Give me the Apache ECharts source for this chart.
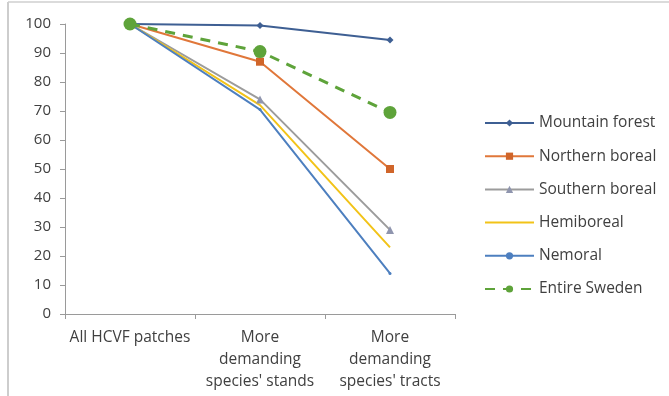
<!DOCTYPE html>
<html>
<head>
<meta charset="utf-8">
<script src="https://cdn.jsdelivr.net/npm/echarts@6/dist/echarts.min.js"></script>
<style>
  html, body { margin: 0; padding: 0; background: #ffffff; }
  #chart { width: 669px; height: 396px; }
</style>
</head>
<body>
<div id="chart"></div>
<script>
// Categories along the x axis
const categories = [
  'All HCVF patches',
  'More\ndemanding\nspecies\' stands',
  'More\ndemanding\nspecies\' tracts'
];

// Share of area (%) retained at each level, per forest region
const mountainForest = [100, 99.5, 94.5];
const northernBoreal = [100, 87, 50];
const southernBoreal = [100, 74, 29];
const hemiboreal = [100, 72, 23];
const nemoral = [100, 70.5, 14];
const entireSweden = [100, 90.5, 69.5];

const yTicks = { min: 0, max: 100, interval: 10 };

const chart = echarts.init(document.getElementById('chart'));

function lineSeries(name, data, color, symbol, size, extra) {
  return Object.assign({
    name: name,
    type: 'line',
    data: data,
    color: color,
    symbol: symbol,
    symbolSize: size,
    lineStyle: { color: color, width: 2 },
    itemStyle: { color: color },
    animation: false
  }, extra || {});
}

chart.setOption({
  animation: false,
  textStyle: { fontFamily: 'Open Sans, Liberation Sans, sans-serif' },
  grid: { left: 65, right: 214, top: 24, bottom: 82, containLabel: false },
  xAxis: {
    type: 'category',
    data: categories,
    boundaryGap: true,
    axisLine: { lineStyle: { color: '#9a9a9a', width: 1 } },
    axisTick: { show: true, length: 5, lineStyle: { color: '#9a9a9a' } },
    axisLabel: { color: '#404040', fontSize: 15.5, lineHeight: 22, margin: 13, interval: 0 }
  },
  yAxis: {
    type: 'value',
    min: yTicks.min,
    max: yTicks.max,
    interval: yTicks.interval,
    splitLine: { show: false },
    axisLine: { show: true, lineStyle: { color: '#9a9a9a', width: 1 } },
    axisTick: { show: true, length: 5, lineStyle: { color: '#9a9a9a' } },
    axisLabel: { color: '#404040', fontSize: 15, margin: 14 }
  },
  legend: {
    orient: 'vertical',
    left: 479,
    top: 110,
    itemWidth: 49,
    itemHeight: 9,
    itemGap: 17.2,
    textStyle: { color: '#404040', fontSize: 15.5 },
    data: [
      'Mountain forest',
      'Northern boreal',
      'Southern boreal',
      { name: 'Hemiboreal', itemStyle: { opacity: 0 } },
      'Nemoral',
      'Entire Sweden'
    ]
  },
  graphic: [
    { type: 'line', shape: { x1: 8, y1: 2, x2: 8, y2: 396 }, style: { stroke: '#bdbdbd', lineWidth: 1.5 } },
    { type: 'line', shape: { x1: 8, y1: 2, x2: 669, y2: 2 }, style: { stroke: '#cfcfcf', lineWidth: 1.5 } }
  ],
  series: [
    lineSeries('Mountain forest', mountainForest, '#3e5f93', 'diamond', 7),
    lineSeries('Northern boreal', northernBoreal, '#e0773a', 'rect', 8, { itemStyle: { color: '#d0652a' } }),
    lineSeries('Southern boreal', southernBoreal, '#9c9c9c', 'triangle', 8, { itemStyle: { color: '#8f95ae' } }),
    lineSeries('Hemiboreal', hemiboreal, '#f2c318', 'none', 0),
    lineSeries('Nemoral', nemoral, '#4d7fbf', 'circle', 3),
    lineSeries('Entire Sweden', entireSweden, '#5ea33a', 'circle', 13, {
      lineStyle: { color: '#5ea33a', width: 3, type: [10, 8] },
      z: 5
    })
  ]
});
</script>
</body>
</html>
